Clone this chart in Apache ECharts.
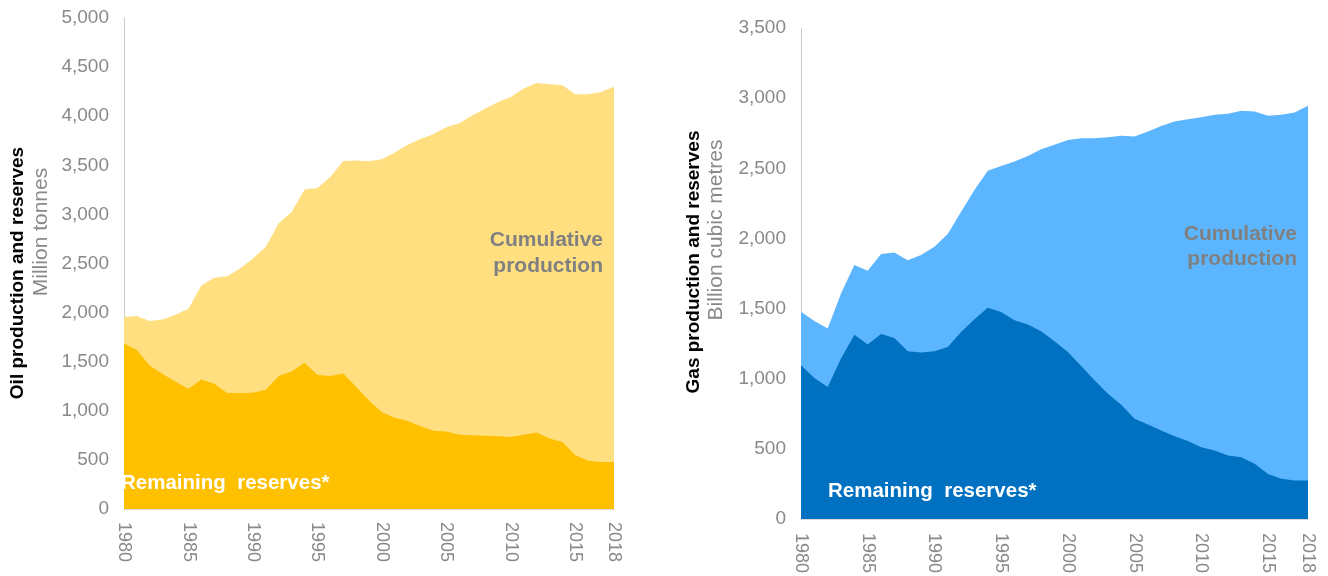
<!DOCTYPE html>
<html>
<head>
<meta charset="utf-8">
<script src="https://cdn.jsdelivr.net/npm/echarts@6/dist/echarts.min.js"></script>
<style>
html,body{margin:0;padding:0;background:#fff;}
#c{width:1328px;height:576px;}
</style>
</head>
<body>
<div id="c"></div>
<script>
// Years on the x axis
const years = [];
for (let y = 1980; y <= 2018; y++) years.push(String(y));
const shownYearLabels = ['1980','1985','1990','1995','2000','2005','2010','2015','2018'];

// Oil (million tonnes): top of stack (remaining reserves + cumulative production) and remaining reserves
const oilTotal = [1955,1965,1915,1930,1978,2038,2277,2356,2370,2448,2551,2671,2911,3024,3253,3270,3380,3544,3548,3540,3562,3630,3709,3767,3818,3887,3928,4007,4075,4144,4195,4281,4339,4325,4315,4223,4223,4247,4300];
const oilReserves = [1685,1620,1460,1375,1295,1225,1320,1275,1180,1180,1185,1215,1355,1400,1490,1365,1355,1380,1245,1105,985,930,895,842,798,790,757,750,746,740,732,757,780,718,682,548,492,478,478];

// Gas (billion cubic metres)
const gasTotal = [1478,1412,1357,1607,1810,1769,1888,1900,1845,1881,1940,2031,2190,2345,2483,2517,2548,2588,2636,2667,2702,2714,2714,2721,2731,2726,2762,2802,2833,2850,2864,2881,2888,2910,2905,2874,2881,2898,2945];
const gasReserves = [1095,1005,940,1143,1314,1243,1319,1290,1195,1186,1195,1226,1333,1424,1505,1476,1417,1386,1338,1267,1190,1090,988,893,814,714,674,631,590,555,512,488,452,440,393,321,286,274,274];

// Y axis settings
const oilMax = 5000, gasMax = 3500, yStep = 500;

const FONT = "'Liberation Sans', Arial, sans-serif";
const gray = '#898989';

function xAxis(gridIndex, margin) {
  return {
    type: 'category', gridIndex, data: years, boundaryGap: false,
    axisLine: { show: true, lineStyle: { color: '#d9d9d9', width: 1 } },
    axisTick: { show: false },
    axisLabel: {
      rotate: -90, color: gray, fontSize: 18, fontFamily: FONT, margin,
      interval: (i, v) => shownYearLabels.indexOf(v) >= 0, hideOverlap: false
    },
    splitLine: { show: false }
  };
}
function yAxis(gridIndex, max) {
  return {
    type: 'value', gridIndex, min: 0, max, interval: yStep,
    axisLine: { show: true, lineStyle: { color: '#c8c8c8', width: 1 } },
    axisTick: { show: false },
    splitLine: { show: false },
    axisLabel: {
      color: gray, fontSize: 19, fontFamily: FONT, margin: 15,
      formatter: v => v.toLocaleString('en-US')
    }
  };
}
function area(name, data, color, xi, yi, z) {
  return {
    name, type: 'line', data, xAxisIndex: xi, yAxisIndex: yi,
    symbol: 'none', silent: true, z,
    lineStyle: { width: 0 },
    areaStyle: { color, opacity: 1 }
  };
}

const chart = echarts.init(document.getElementById('c'), null, { renderer: 'canvas' });
chart.setOption({
  animation: false,
  backgroundColor: '#ffffff',
  grid: [
    { left: 124, top: 18, width: 490, height: 491, containLabel: false },
    { left: 801, top: 28, width: 507, height: 492, containLabel: false }
  ],
  xAxis: [xAxis(0, 13), xAxis(1, 14)],
  yAxis: [yAxis(0, oilMax), yAxis(1, gasMax)],
  series: [
    area('Cumulative production', oilTotal, '#FFDF80', 0, 0, 1),
    area('Remaining reserves', oilReserves, '#FFC000', 0, 0, 2),
    area('Cumulative production', gasTotal, '#5BB6FF', 1, 1, 1),
    area('Remaining reserves', gasReserves, '#0070C0', 1, 1, 2)
  ],
  graphic: [
    { type: 'text', x: 18, y: 273, rotation: Math.PI / 2, z: 10,
      style: { text: 'Oil production and reserves', font: "bold 19px " + FONT, fill: '#000', align: 'center', verticalAlign: 'middle' } },
    { type: 'text', x: 41, y: 232, rotation: Math.PI / 2, z: 10,
      style: { text: 'Million tonnes', font: "21px " + FONT, fill: gray, align: 'center', verticalAlign: 'middle' } },
    { type: 'text', x: 694, y: 262, rotation: Math.PI / 2, z: 10,
      style: { text: 'Gas production and reserves', font: "bold 19px " + FONT, fill: '#000', align: 'center', verticalAlign: 'middle' } },
    { type: 'text', x: 716, y: 230, rotation: Math.PI / 2, z: 10,
      style: { text: 'Billion cubic metres', font: "21px " + FONT, fill: gray, align: 'center', verticalAlign: 'middle' } },
    { type: 'text', x: 603, y: 253, z: 10,
      style: { text: 'Cumulative\nproduction', font: "bold 21px " + FONT, fill: '#808080', align: 'right', verticalAlign: 'middle', lineHeight: 26 } },
    { type: 'text', x: 1297, y: 247, z: 10,
      style: { text: 'Cumulative\nproduction', font: "bold 21px " + FONT, fill: '#808080', align: 'right', verticalAlign: 'middle', lineHeight: 25 } },
    { type: 'text', x: 121, y: 483, z: 10,
      style: { text: 'Remaining  reserves*', font: "bold 20.5px " + FONT, fill: '#ffffff', align: 'left', verticalAlign: 'middle' } },
    { type: 'text', x: 828, y: 491, z: 10,
      style: { text: 'Remaining  reserves*', font: "bold 20.5px " + FONT, fill: '#ffffff', align: 'left', verticalAlign: 'middle' } }
  ]
});
</script>
</body>
</html>
